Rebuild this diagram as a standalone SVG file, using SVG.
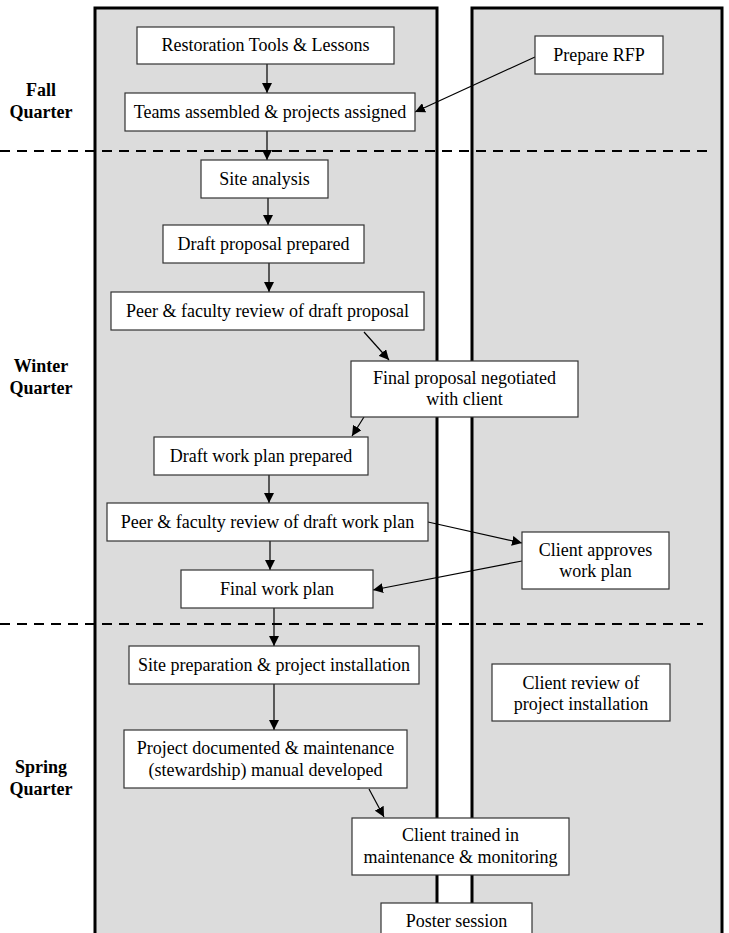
<svg xmlns="http://www.w3.org/2000/svg" width="729" height="933" viewBox="0 0 729 933">
<style>
.panel{fill:#dcdcdc;stroke:#000;stroke-width:3}
.box{fill:#fff;stroke:#333;stroke-width:1.2}
.c{stroke:#000;stroke-width:1.2;fill:none;marker-end:url(#ah)}
.dash{stroke:#000;stroke-width:2;stroke-dasharray:10,7;fill:none}
</style>
<defs>
<marker id="ah" viewBox="0 0 10 10" refX="10" refY="5" markerWidth="10" markerHeight="10" markerUnits="userSpaceOnUse" orient="auto">
<path d="M0,0 L10,5 L0,10 z" fill="#000"/>
</marker>
</defs>
<rect width="729" height="933" fill="#fff"/>
<g id="lanes">
<rect class="panel" x="95" y="8" width="342" height="940"/>
<rect class="panel" x="472" y="8" width="250" height="940"/>
</g>
<g id="dividers">
<line class="dash" x1="0" y1="151" x2="707" y2="151"/>
<line class="dash" x1="0" y1="624" x2="703" y2="624"/>
</g>
<g id="labels" font-size="18" font-weight="bold" text-anchor="middle" fill="#000">
<text x="41" y="96" font-family="Liberation Serif">Fall</text>
<text x="41" y="118" font-family="Liberation Serif">Quarter</text>
<text x="41" y="372" font-family="Liberation Serif">Winter</text>
<text x="41" y="394" font-family="Liberation Serif">Quarter</text>
<text x="41" y="773" font-family="Liberation Serif">Spring</text>
<text x="41" y="795" font-family="Liberation Serif">Quarter</text>
</g>
<g id="connectors">
<line class="c" x1="267" y1="64" x2="267" y2="93"/>
<line class="c" x1="535" y1="57" x2="415" y2="112"/>
<line class="c" x1="267" y1="131" x2="267" y2="160"/>
<line class="c" x1="268" y1="198" x2="268" y2="225"/>
<line class="c" x1="269" y1="263" x2="269" y2="292"/>
<line class="c" x1="364" y1="332" x2="389" y2="360"/>
<line class="c" x1="364" y1="417" x2="352" y2="436"/>
<line class="c" x1="269" y1="475" x2="269" y2="503"/>
<line class="c" x1="428" y1="522" x2="522" y2="543"/>
<line class="c" x1="270" y1="541" x2="270" y2="570"/>
<line class="c" x1="522" y1="561" x2="373" y2="590"/>
<line class="c" x1="274" y1="608" x2="274" y2="646"/>
<line class="c" x1="274" y1="684" x2="274" y2="730"/>
<line class="c" x1="369" y1="789" x2="384" y2="817"/>
</g>
<g id="nodes" font-size="18" text-anchor="middle" fill="#000">
<g id="n1"><rect class="box" x="137" y="27" width="257" height="37"/><text font-family="Liberation Serif" x="265.5" y="51">Restoration Tools &amp; Lessons</text></g>
<g id="n2"><rect class="box" x="125" y="93" width="290" height="38"/><text font-family="Liberation Serif" x="270" y="118">Teams assembled &amp; projects assigned</text></g>
<g id="n3"><rect class="box" x="535" y="36" width="128" height="38"/><text font-family="Liberation Serif" x="599" y="61">Prepare RFP</text></g>
<g id="n4"><rect class="box" x="201" y="160" width="127" height="38"/><text font-family="Liberation Serif" x="264.5" y="185">Site analysis</text></g>
<g id="n5"><rect class="box" x="163" y="225" width="201" height="38"/><text font-family="Liberation Serif" x="263.5" y="250">Draft proposal prepared</text></g>
<g id="n6"><rect class="box" x="111" y="292" width="313" height="38"/><text font-family="Liberation Serif" x="267.5" y="317">Peer &amp; faculty review of draft proposal</text></g>
<g id="n7"><rect class="box" x="351" y="361" width="227" height="56"/><text font-family="Liberation Serif" x="464.5" y="384">Final proposal negotiated</text><text font-family="Liberation Serif" x="464.5" y="405">with client</text></g>
<g id="n8"><rect class="box" x="154" y="437" width="214" height="38"/><text font-family="Liberation Serif" x="261" y="462">Draft work plan prepared</text></g>
<g id="n9"><rect class="box" x="107" y="503" width="321" height="38"/><text font-family="Liberation Serif" x="267.5" y="528">Peer &amp; faculty review of draft work plan</text></g>
<g id="n10"><rect class="box" x="181" y="570" width="192" height="38"/><text font-family="Liberation Serif" x="277" y="595">Final work plan</text></g>
<g id="n11"><rect class="box" x="522" y="532" width="147" height="57"/><text font-family="Liberation Serif" x="595.5" y="556">Client approves</text><text font-family="Liberation Serif" x="595.5" y="577">work plan</text></g>
<g id="n12"><rect class="box" x="129" y="646" width="290" height="38"/><text font-family="Liberation Serif" x="274" y="671">Site preparation &amp; project installation</text></g>
<g id="n13"><rect class="box" x="492" y="664" width="178" height="57"/><text font-family="Liberation Serif" x="581" y="689">Client review of</text><text font-family="Liberation Serif" x="581" y="710">project installation</text></g>
<g id="n14"><rect class="box" x="124" y="730" width="283" height="58"/><text font-family="Liberation Serif" x="265.5" y="754">Project documented &amp; maintenance</text><text font-family="Liberation Serif" x="265.5" y="776">(stewardship) manual developed</text></g>
<g id="n15"><rect class="box" x="352" y="818" width="217" height="57"/><text font-family="Liberation Serif" x="460.5" y="841">Client trained in</text><text font-family="Liberation Serif" x="460.5" y="863">maintenance &amp; monitoring</text></g>
<g id="n16"><rect class="box" x="381" y="903" width="151" height="40"/><text font-family="Liberation Serif" x="456.5" y="927">Poster session</text></g>
</g>
</svg>
